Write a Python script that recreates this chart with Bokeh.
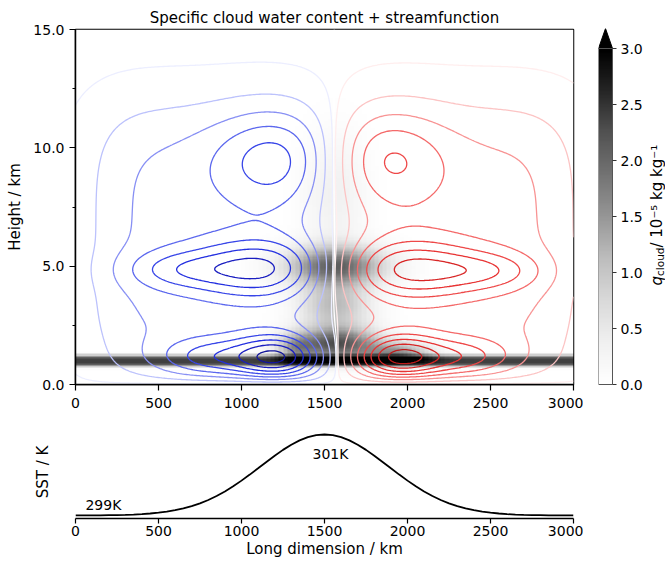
import numpy as np
from bokeh.plotting import figure
from bokeh.layouts import row, column
from bokeh.models import Range1d, FixedTicker, PrintfTickFormatter, LinearColorMapper
from bokeh.embed import file_html
from bokeh.resources import INLINE
from bokeh.core.properties import value

FONT = "DejaVu Sans"

# ---------------- values ----------------
x_ticks = [0, 500, 1000, 1500, 2000, 2500, 3000]
height_ticks = [0.0, 5.0, 10.0, 15.0]
height_minor = [2.5, 7.5, 12.5]
cbar_ticks = [0.0, 0.5, 1.0, 1.5, 2.0, 2.5, 3.0]

# streamfunction circulation cells (normalised; negative = blue cells, positive = red cells)
#            outer  upper  middle tail   lower  tail
psi_cx  = [800, 1250, 1130, 620, 1230, 820,
           2320, 1820, 2000, 2500, 1930, 2320]
psi_cz  = [6.0, 9.6, 4.9, 4.85, 1.1, 1.1,
           6.0, 9.6, 4.85, 4.8, 1.1, 1.1]
psi_amp = [-0.30, -0.35, -0.50, -0.22, -0.68, -0.38,
           0.30, 0.32, 0.50, 0.23, 0.68, 0.38]
psi_sx  = [700, 400, 420, 330, 260, 330,
           700, 380, 440, 330, 260, 330]
psi_sz  = [5.8, 2.0, 1.25, 0.8, 1.0, 0.9,
           5.8, 2.0, 1.25, 0.8, 1.0, 0.9]
psi_px  = [4, 2, 2, 2, 2, 2, 4, 2, 2, 2, 2, 2]
psi_pz  = [4, 2, 2, 2, 2, 2, 4, 2, 2, 2, 2, 2]
psi_levels = [-0.875, -0.75, -0.625, -0.5, -0.375, -0.25, -0.125, -0.02, 0.0,
              0.02, 0.125, 0.25, 0.375, 0.5, 0.625, 0.75, 0.875]
psi_colors = ["#14169a", "#1a1ec0", "#2430e0", "#3846e8", "#5c68ee", "#8890f4", "#bcc2fc", "#eceeff",
              "#ffffff",
              "#ffeeee", "#fcc4c4", "#f89494", "#f46a6a", "#ee4848", "#e83434", "#d82626", "#bc1c1c"]

# specific cloud water features (10^-5 kg/kg)
qc_cx  = [1500, 1570, 1950, 1320, 1565, 1560, 1560]
qc_cz  = [1.0, 1.7, 1.3, 1.5, 5.0, 3.3, 8.0]
qc_amp = [2.4, 2.2, 1.4, 0.9, 2.0, 1.1, 0.35]
qc_sx  = [1e6, 260, 200, 110, 290, 210, 190]
qc_sz  = [0.25, 0.7, 0.45, 0.6, 0.85, 1.0, 2.5]
qc_pz  = [4, 2, 2, 2, 2, 2, 2]

# sea surface temperature profile (every 50 km)
sst_x = list(range(0, 3001, 50))
sst_k = [299.001, 299.002, 299.003, 299.004, 299.007, 299.010, 299.016, 299.023,
         299.034, 299.049, 299.069, 299.095, 299.130, 299.175, 299.231, 299.300,
         299.383, 299.481, 299.594, 299.721, 299.861, 300.010, 300.166, 300.323,
         300.476, 300.620, 300.747, 300.854, 300.934, 300.983, 301.000,
         300.983, 300.934, 300.854, 300.747, 300.620, 300.476, 300.323, 300.166,
         300.010, 299.861, 299.721, 299.594, 299.481, 299.383, 299.300, 299.231,
         299.175, 299.130, 299.095, 299.069, 299.049, 299.034, 299.023, 299.016,
         299.010, 299.007, 299.004, 299.003, 299.002, 299.001]

# ---------------- fields ----------------
xg = np.linspace(0, 3000, 301)
zg = np.linspace(0.02, 15.0, 300)
X, Z = np.meshgrid(xg, zg)
psi = np.zeros_like(X)
for a, b, c, d, e, f, g in zip(psi_cx, psi_cz, psi_amp, psi_sx, psi_sz, psi_px, psi_pz):
    psi += c * np.exp(-np.abs((X - a) / d) ** f - np.abs((Z - b) / e) ** g)
psi *= (1 - np.exp(-Z / 0.25))

xc = np.arange(12.5, 3000, 25.0)
zc = np.arange(0.05, 15.0, 0.1)
XC, ZC = np.meshgrid(xc, zc)
qc = np.zeros_like(XC)
for a, b, c, d, e, f in zip(qc_cx, qc_cz, qc_amp, qc_sx, qc_sz, qc_pz):
    qc += c * np.exp(-((XC - a) / d) ** 2 - np.abs((ZC - b) / e) ** f)

greys9 = ["#ffffff", "#f0f0f0", "#d9d9d9", "#bdbdbd", "#969696",
          "#737373", "#525252", "#252525", "#000000"]
def _interp_palette(cols, n):
    rgb = np.array([[int(c[i:i + 2], 16) for i in (1, 3, 5)] for c in cols], float)
    t = np.linspace(0, 1, len(cols))
    out = []
    for s in np.linspace(0, 1, n):
        r = [np.interp(s, t, rgb[:, k]) for k in range(3)]
        out.append("#%02x%02x%02x" % tuple(int(round(v)) for v in r))
    return out
palette = _interp_palette(greys9, 256)
mapper = LinearColorMapper(palette=palette, low=0.0, high=3.0)

def style_axis(ax, size="14px"):
    ax.major_label_text_font = FONT
    ax.major_label_text_font_size = size
    ax.major_label_text_color = "black"
    ax.axis_label_text_font = FONT
    ax.axis_label_text_font_size = "15px"
    ax.axis_label_text_font_style = "normal"
    ax.axis_label_text_color = "black"
    ax.major_tick_in = 0
    ax.major_tick_out = 6
    ax.minor_tick_in = 0
    ax.minor_tick_out = 3
    ax.major_tick_line_color = "black"
    ax.minor_tick_line_color = "black"
    ax.axis_line_color = "black"
    ax.axis_line_width = 1.5
    ax.major_tick_line_width = 1.2

# ---------------- main panel ----------------
p = figure(width=583, height=412, x_range=Range1d(0, 3000), y_range=Range1d(0, 15),
           toolbar_location=None, output_backend="svg",
           min_border_left=75, min_border_right=10, min_border_top=29, min_border_bottom=28,
           title="Specific cloud water content + streamfunction")
p.title.align = "center"
p.title.text_font = FONT
p.title.text_font_size = "15px"
p.title.text_font_style = "normal"
p.title.text_color = "black"
p.title.standoff = 6
p.xgrid.visible = False
p.ygrid.visible = False
p.outline_line_color = "black"
p.outline_line_width = 1.5
p.outline_line_alpha = 1.0

p.image(image=[qc], x=0, y=0, dw=3000, dh=15, color_mapper=mapper)
p.contour(xg, zg, psi, psi_levels, line_color=psi_colors, line_width=1.3)

p.xaxis.ticker = FixedTicker(ticks=x_ticks, minor_ticks=[])
p.yaxis.ticker = FixedTicker(ticks=height_ticks, minor_ticks=height_minor)
p.yaxis.formatter = PrintfTickFormatter(format="%.1f")
p.yaxis.axis_label = "Height / km"
style_axis(p.xaxis[0]); style_axis(p.yaxis[0])
p.xaxis.major_label_standoff = 7
p.yaxis.major_label_standoff = 5
p.yaxis.axis_label_standoff = 6

# ---------------- SST panel ----------------
q = figure(width=583, height=153, x_range=Range1d(0, 3000), y_range=Range1d(298.926, 301.222),
           toolbar_location=None, output_backend="svg",
           min_border_left=75, min_border_right=10, min_border_top=13, min_border_bottom=47)
q.xgrid.visible = False
q.ygrid.visible = False
q.outline_line_color = None
q.line(sst_x, sst_k, line_color="black", line_width=1.8)
q.text(x=[60], y=[299.25], text=["299K"], text_font=value(FONT), text_font_size="14px",
       text_align="left", text_baseline="middle", text_color="black")
q.text(x=[1536], y=[300.53], text=["301K"], text_font=value(FONT), text_font_size="14px",
       text_align="center", text_baseline="middle", text_color="black")
q.xaxis.ticker = FixedTicker(ticks=x_ticks, minor_ticks=[])
q.xaxis.axis_label = "Long dimension / km"
style_axis(q.xaxis[0]); style_axis(q.yaxis[0])
q.xaxis.major_tick_out = 5
q.xaxis.major_label_standoff = 2
q.xaxis.axis_label_standoff = 1
q.yaxis.ticker = FixedTicker(ticks=[], minor_ticks=[])
q.yaxis.axis_line_color = None
q.yaxis.axis_label = "SST / K"
q.yaxis.axis_label_standoff = 24

# ---------------- colour bar (frame covers bar, ticks and label) ----------------
PX = 14.0          # pixels per x unit (bar width)
PY = 112.0         # pixels per colour-bar unit
cb_top = 3.0 + 20.0 / PY
cb_bottom = -16.0 / PY
cb = figure(width=82, height=412, x_range=Range1d(0, 67.0 / PX), y_range=Range1d(cb_bottom, cb_top),
            toolbar_location=None, output_backend="svg",
            x_axis_location=None, y_axis_location=None,
            min_border_left=15, min_border_right=0, min_border_top=28, min_border_bottom=12)
cb.xgrid.visible = False
cb.ygrid.visible = False
cb.outline_line_color = None
grad = np.linspace(0.0, 3.0, 256).reshape(256, 1)
cb.image(image=[grad], x=0, y=0, dw=1, dh=3.0, color_mapper=mapper)
cb.patch([0, 1, 0.5], [3.0, 3.0, cb_top], fill_color="black", line_color="black")
cb.quad(left=[0], right=[1], bottom=[0], top=[3.0], fill_color=None, line_color="#555555", line_width=1)
cb.segment(x0=[1.0] * len(cbar_ticks), y0=cbar_ticks, x1=[1.0 + 4.0 / PX] * len(cbar_ticks),
           y1=cbar_ticks, line_color="#333333", line_width=1.2)
cb.text(x=[1.0 + 8.0 / PX] * len(cbar_ticks), y=cbar_ticks, text=["%.1f" % t for t in cbar_ticks],
        text_font=value(FONT), text_font_size="14px", text_align="left", text_baseline="middle",
        text_color="black")

# rotated label: q_cloud / 10^-5 kg kg^-1
adv = {"q": 0.635, "c": 0.550, "l": 0.278, "o": 0.612, "u": 0.634, "d": 0.635}
rest = " / 10\u207b\u2075 kg kg\u207b\u00b9"
pieces = [("q", 15, 0, "italic", 0.635 * 15),
          ("cloud", 10.5, 3, "normal", sum(adv[c] for c in "cloud") * 10.5),
          (rest, 15, 0, "normal", 7.2 * 15)]
total = sum(w for *_, w in pieces)
ypage = 212 + total / 2.0
base_x = 656
for t, s, off, style, w in pieces:
    cb.text(x=[(base_x + off - 598) / PX], y=[(384 - ypage) / PY], text=[t], angle=np.pi / 2,
            text_font=value(FONT), text_font_size="%gpx" % s, text_font_style=style,
            text_align="left", text_baseline="alphabetic", text_color="black")
    ypage -= w

layout = row(column(p, q, spacing=0), cb, spacing=0)
open("out.html", "w").write(file_html(layout, INLINE))
